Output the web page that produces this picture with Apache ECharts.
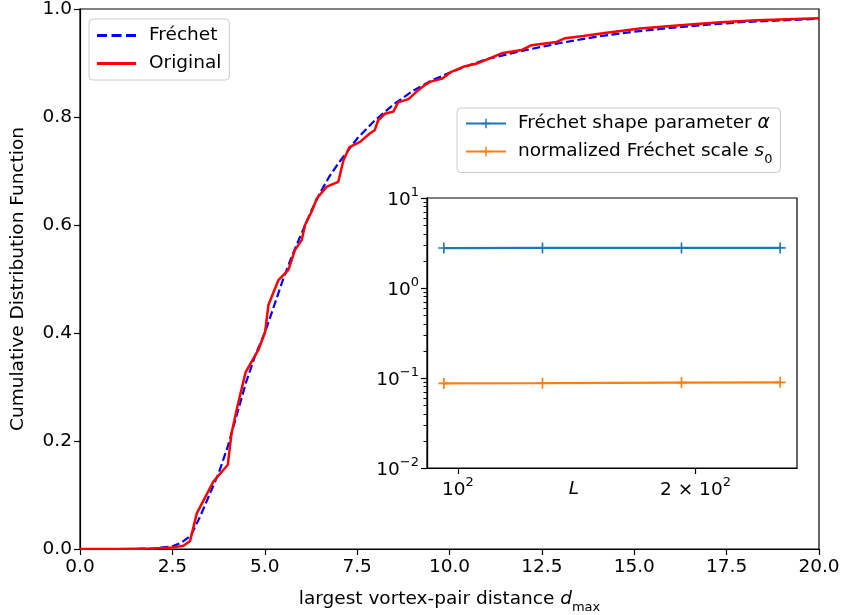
<!DOCTYPE html>
<html><head><meta charset="utf-8">
<script src="https://cdn.jsdelivr.net/npm/echarts@6/dist/echarts.min.js"></script>
<style>html,body{margin:0;padding:0;background:#fff}#c{width:843px;height:615px}</style>
</head><body><div id="c"></div><script>
// ---- main chart data ----
const frechetX = [0, 1, 1.5, 2, 2.5, 2.75, 3, 3.25, 3.5, 3.75, 4, 4.25, 4.5, 4.75, 5, 5.25, 5.5, 5.75, 6, 6.25, 6.5, 6.75, 7, 7.5, 8, 8.5, 9, 9.5, 10, 10.5, 11, 11.5, 12, 13, 14, 15, 16, 17, 18, 19, 20];
const frechetY = [0, 0, 0, 0.001, 0.005, 0.012, 0.025, 0.06, 0.1, 0.14, 0.19, 0.25, 0.31, 0.36, 0.40, 0.45, 0.50, 0.545, 0.585, 0.625, 0.66, 0.69, 0.715, 0.76, 0.795, 0.824, 0.848, 0.867, 0.882, 0.895, 0.907, 0.915, 0.923, 0.937, 0.949, 0.958, 0.965, 0.971, 0.976, 0.979, 0.982];
const originalX = [0, 1, 2, 2.5, 2.8, 2.98, 3.16, 3.61, 4.0, 4.1, 4.26, 4.48, 4.83, 5.01, 5.1, 5.37, 5.64, 5.82, 6.0, 6.09, 6.27, 6.41, 6.68, 6.99, 7.13, 7.29, 7.58, 7.85, 7.98, 8.07, 8.25, 8.48, 8.61, 8.89, 9.11, 9.29, 9.47, 9.8, 10.03, 10.37, 10.74, 11.1, 11.41, 11.95, 12.22, 12.9, 13.13, 13.62, 14.25, 15.16, 16.24, 17.23, 18.31, 20];
const originalY = [0, 0, 0.001, 0.003, 0.006, 0.015, 0.066, 0.125, 0.156, 0.214, 0.264, 0.327, 0.369, 0.402, 0.452, 0.498, 0.517, 0.554, 0.572, 0.6, 0.625, 0.649, 0.671, 0.68, 0.72, 0.744, 0.754, 0.77, 0.776, 0.794, 0.806, 0.81, 0.827, 0.833, 0.847, 0.857, 0.865, 0.871, 0.883, 0.893, 0.899, 0.909, 0.918, 0.924, 0.933, 0.939, 0.946, 0.95, 0.956, 0.964, 0.97, 0.975, 0.979, 0.983];
// ---- inset data ----
const sizesL = [96, 128, 192, 256];
const shapeAlpha = [2.78, 2.79, 2.79, 2.79];
const scaleS0 = [0.0870, 0.0876, 0.0890, 0.0895];
// ---- tick values ----
const mainXTicks = [0, 2.5, 5, 7.5, 10, 12.5, 15, 17.5, 20];
const mainYTicks = [0, 0.2, 0.4, 0.6, 0.8, 1.0];
const insetXTicks = [100, 200];
const insetYMajor = [0.01, 0.1, 1, 10];
const insetYMinor = [];
[0.01, 0.1, 1].forEach(d => { for (let k = 2; k <= 9; k++) insetYMinor.push(+(d * k).toPrecision(3)); });

const F = 'DejaVu Sans';
const FS = 18.5;
const zip = (a, b) => a.map((v, i) => [v, b[i]]);
const supRich = {
  b: {fontFamily: F, fontSize: FS, color: '#000', lineHeight: 24, verticalAlign: 'bottom'},
  sup: {fontFamily: F, fontSize: 13, color: '#000', lineHeight: 24, verticalAlign: 'top'},
  i: {fontFamily: F, fontSize: FS, color: '#000', fontStyle: 'italic', lineHeight: 24},
  sub: {fontFamily: F, fontSize: 13, color: '#000', lineHeight: 24, verticalAlign: 'bottom', padding: [0, 0, -3, 0]}
};
const plusPath = 'path://M4.25,0 h1.5 v10 h-1.5 z M0,4.25 h10 v1.5 h-10 z';
const dashIcon = 'path://M0,0h10v3h-10zM14.5,0h10v3h-10zM29,0h10v3h-10z';
const solidIcon = 'path://M0,0h39v3h-39z';

const chart = echarts.init(document.getElementById('c'), null, {renderer: 'canvas'});
chart.setOption({
  animation: false,
  backgroundColor: '#fff',
  textStyle: {fontFamily: F},
  grid: [
    {left: 80, top: 9, width: 739, height: 540, show: true, borderColor: '#000', borderWidth: 1.2,
     backgroundColor: 'transparent', containLabel: false, outerBoundsMode: 'none'},
    {left: 427, top: 198, width: 370, height: 270, show: true, borderColor: '#000', borderWidth: 1.2,
     backgroundColor: '#fff', z: 5, containLabel: false, outerBoundsMode: 'none'}
  ],
  xAxis: [
    {gridIndex: 0, type: 'value', min: 0, max: 20, interval: 2.5,
     axisLine: {show: true, onZero: false, lineStyle: {color: '#000', width: 1.2}},
     axisTick: {show: true, length: 6, inside: false, lineStyle: {color: '#000', width: 1.2}},
     axisLabel: {margin: 9, color: '#000', fontSize: FS, fontFamily: F, formatter: v => v.toFixed(1), customValues: mainXTicks},
     splitLine: {show: false},
     name: 'largest vortex-pair distance {i|d}{sub|max}', nameLocation: 'middle', nameGap: 38, nameMoveOverlap: false,
     nameTextStyle: {color: '#000', fontSize: FS, fontFamily: F, rich: supRich}},
    {gridIndex: 1, type: 'log', logBase: 10, min: 91.4, max: 268.9, z: 6,
     axisLine: {show: true, onZero: false, lineStyle: {color: '#000', width: 1.2}},
     axisTick: {show: true, length: 6, customValues: insetXTicks, lineStyle: {color: '#000', width: 1.2}},
     axisLabel: {margin: 8, color: '#000', fontSize: FS, fontFamily: F, customValues: insetXTicks,
       formatter: v => Math.round(v) === 100 ? '{b|10}{sup|2}' : '{b|2 × 10}{sup|2}', rich: supRich},
     splitLine: {show: false}, minorTick: {show: false},
     name: 'L', nameLocation: 'middle', nameGap: 12, nameMoveOverlap: false,
     nameTextStyle: {color: '#000', fontSize: FS, fontStyle: 'italic', fontFamily: F, padding: [0, 76, 0, 0]}}
  ],
  yAxis: [
    {gridIndex: 0, type: 'value', min: 0, max: 1, interval: 0.2,
     axisLine: {show: true, onZero: false, lineStyle: {color: '#000', width: 1.2}},
     axisTick: {show: true, length: 6, lineStyle: {color: '#000', width: 1.2}},
     axisLabel: {margin: 8, color: '#000', fontSize: FS, fontFamily: F, formatter: v => v.toFixed(1), customValues: mainYTicks},
     splitLine: {show: false},
     name: 'Cumulative Distribution Function', nameLocation: 'middle', nameGap: 52, nameRotate: 90, nameMoveOverlap: false,
     nameTextStyle: {color: '#000', fontSize: FS, fontFamily: F}},
    {gridIndex: 1, type: 'log', logBase: 10, min: 0.01, max: 10, z: 6, position: 'left',
     axisLine: {show: true, onZero: false, lineStyle: {color: '#000', width: 1.2}},
     axisTick: {show: true, length: 3.5, customValues: insetYMajor.concat(insetYMinor), lineStyle: {color: '#000', width: 1}},
     axisLabel: {margin: 8, color: '#000', fontSize: FS, fontFamily: F, customValues: insetYMajor,
       formatter: v => '{b|10}{sup|' + String(Math.round(Math.log10(v))).replace('-', '\u2212') + '}', rich: supRich},
     splitLine: {show: false}},
    {gridIndex: 1, type: 'log', logBase: 10, min: 0.01, max: 10, z: 6, position: 'left', offset: 0,
     axisLine: {show: true, onZero: false, lineStyle: {color: '#000', width: 1.2}},
     axisTick: {show: true, length: 6, customValues: insetYMajor, lineStyle: {color: '#000', width: 1.2}},
     axisLabel: {show: false},
     splitLine: {show: false}}
  ],
  legend: [
    {left: 89, top: 19, orient: 'vertical', itemGap: 9, itemWidth: 39, itemHeight: 3,
     padding: [7, 8, 7, 8], borderColor: '#cccccc', borderWidth: 1, borderRadius: 4,
     backgroundColor: 'rgba(255,255,255,0.8)',
     textStyle: {color: '#000', fontSize: FS, fontFamily: F, padding: [0, 0, 0, 8]},
     data: [{name: 'Fréchet', icon: dashIcon}, {name: 'Original', icon: solidIcon}]},
    {left: 457, top: 108, orient: 'vertical', itemGap: 9, itemWidth: 40, itemHeight: 12, z: 7,
     padding: [6, 8, 6, 8], borderColor: '#cccccc', borderWidth: 1, borderRadius: 4,
     backgroundColor: 'rgba(255,255,255,0.8)',
     textStyle: {color: '#000', fontSize: FS, fontFamily: F, rich: supRich, padding: [0, 0, 0, 7]},
     formatter: n => n === 'alpha' ? 'Fréchet shape parameter {i|α}' : 'normalized Fréchet scale {i|s}{sub|0}',
     data: ['alpha', 's0']}
  ],
  series: [
    {name: 'Fréchet', type: 'line', xAxisIndex: 0, yAxisIndex: 0, data: zip(frechetX, frechetY),
     showSymbol: false, symbol: 'none', color: '#0000ff',
     lineStyle: {color: '#0000ff', width: 2.2, type: [8, 3.5]}, z: 2},
    {name: 'Original', type: 'line', xAxisIndex: 0, yAxisIndex: 0, data: zip(originalX, originalY),
     showSymbol: false, symbol: 'none', color: '#ff0000',
     lineStyle: {color: '#ff0000', width: 2.5}, z: 3},
    {name: 'alpha', type: 'line', xAxisIndex: 1, yAxisIndex: 1, data: zip(sizesL, shapeAlpha),
     symbol: plusPath, symbolSize: 11, color: '#1f77b4',
     itemStyle: {color: '#1f77b4'}, lineStyle: {color: '#1f77b4', width: 2.2}, z: 8},
    {name: 's0', type: 'line', xAxisIndex: 1, yAxisIndex: 1, data: zip(sizesL, scaleS0),
     symbol: plusPath, symbolSize: 11, color: '#ff7f0e',
     itemStyle: {color: '#ff7f0e'}, lineStyle: {color: '#ff7f0e', width: 2.2}, z: 8}
  ]
});
</script></body></html>
